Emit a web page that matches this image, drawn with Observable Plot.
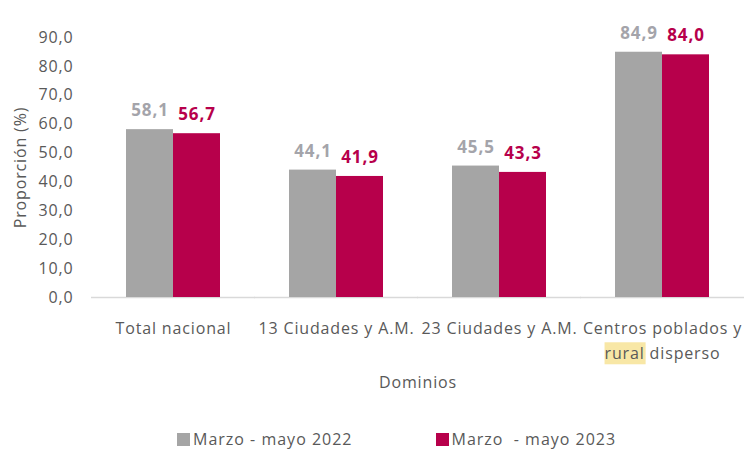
<!DOCTYPE html>
<html>
<head>
<meta charset="utf-8">
<script src="https://cdn.jsdelivr.net/npm/d3@7"></script>
<script src="https://cdn.jsdelivr.net/npm/@observablehq/plot@0.6"></script>
<style>
  body { margin: 0; background: #fff; font-family: "Open Sans", sans-serif; }
  #chart svg { display: block; }
  #chart svg text { letter-spacing: 0.85px; }
  #legend { padding-left: 177px; margin-top: 3px; }
  div.lg-swatches { min-height: 0 !important; letter-spacing: 1px; }
  div.lg-swatches .lg-swatch { margin-right: 83px !important; white-space: pre; }
  div.lg-swatches .lg-swatch svg { margin-right: 3px !important; }
</style>
</head>
<body>
<div id="chart"></div>
<div id="legend"></div>
<script>
const dominios = ["Total nacional", "13 Ciudades y A.M.", "23 Ciudades y A.M.", "Centros poblados y\nrural disperso"];
const series = ["Marzo - mayo 2022", "Marzo  - mayo 2023"];
const values2022 = [58.1, 44.1, 45.5, 84.9];
const values2023 = [56.7, 41.9, 43.3, 84.0];
const yTicks = [0, 10, 20, 30, 40, 50, 60, 70, 80, 90];
const colors = ["#a5a5a5", "#b7004b"];
const labelColors = ["#a4a4aa", "#b7004b"];

const data = [];
dominios.forEach((d, i) => {
  data.push({dominio: d, serie: series[0], value: values2022[i]});
  data.push({dominio: d, serie: series[1], value: values2023[i]});
});
const fmt = v => v.toFixed(1).replace(".", ",");
const font = "'Open Sans', sans-serif";

const plot = Plot.plot({
  width: 746,
  height: 425,
  marginLeft: 90,
  marginRight: 1,
  marginTop: 37,
  marginBottom: 128,
  style: {fontFamily: font, fontSize: "16px", color: "#595959", background: "#fff"},
  fx: {domain: dominios, paddingInner: 0.426, paddingOuter: 0.213, label: null},
  x: {domain: series, padding: 0, axis: null},
  y: {domain: [0, 90], label: null},
  color: {domain: series, range: colors},
  marks: [
    Plot.ruleY([0], {stroke: "#d9d9d9", strokeWidth: 1.5, insetLeft: -35, insetRight: -35}),
    Plot.barY(data, {fx: "dominio", x: "serie", y: "value", fill: "serie"}),
    Plot.text(data, {
      fx: "dominio", x: "serie", y: "value",
      text: d => fmt(d.value),
      fill: d => labelColors[series.indexOf(d.serie)],
      dy: -19, fontWeight: 700, fontSize: 17
    }),
    Plot.axisY({
      ticks: yTicks, tickFormat: fmt, tickSize: 0, tickPadding: 53,
      fontSize: 16, fill: "#595959",
      label: "Proporción (%)", labelAnchor: "center", labelArrow: "none", labelOffset: 112
    }),
    Plot.axisFx({
      anchor: "bottom", tickSize: 0, tickPadding: 18, fontSize: 16, fill: "#595959",
      lineHeight: 1.6,
      label: "Dominios", labelAnchor: "center", labelArrow: "none", labelOffset: 90
    })
  ]
});
document.getElementById("chart").appendChild(plot);

// highlight the word "rural" in the last category label
d3.select(plot).selectAll("text").each(function() {
  const full = this.textContent;
  const idx = full.indexOf("rural");
  if (idx < 0 || full.indexOf("disperso") < 0) return;
  const a = this.getExtentOfChar(idx);
  const b = this.getExtentOfChar(idx + 4);
  const r = document.createElementNS("http://www.w3.org/2000/svg", "rect");
  r.setAttribute("x", a.x);
  r.setAttribute("y", a.y);
  r.setAttribute("width", b.x + b.width - a.x + 1);
  r.setAttribute("height", a.height);
  r.setAttribute("fill", "#f8e7a6");
  const t = this.getAttribute("transform");
  if (t) r.setAttribute("transform", t);
  this.parentNode.insertBefore(r, this);
});

const legend = Plot.legend({
  color: {type: "ordinal", domain: series, range: colors},
  legend: "swatches",
  swatchSize: 13,
  className: "lg",
  style: {fontFamily: font, fontSize: "16px", color: "#595959"}
});
document.getElementById("legend").appendChild(legend);
</script>
</body>
</html>
